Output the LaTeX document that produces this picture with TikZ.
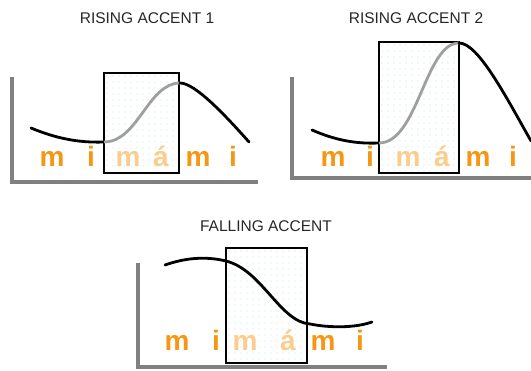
\documentclass[tikz,border=0pt]{standalone}
\usepackage{fontspec}
\setmainfont{Liberation Sans}
\usepackage{tikz}
\definecolor{syllorange}{RGB}{245, 150, 20}
\definecolor{fadedorange}{RGB}{250, 205, 140}
\definecolor{dotcyan}{RGB}{190, 228, 228}
\newcommand{\dotbox}[5]{
\begin{scope}
  \clip (#1,#2) rectangle (#3,#4);
  \foreach \i in {0,...,14}
    \foreach \j in {0,...,22}
      \fill[dotcyan] (#1+3+\i*6,#2+3+\j*6) circle (0.7);
\end{scope}
\draw[accentbox] (#1,#2) rectangle (#3,#4);
\coordinate (#5) at (#1,#2);
}

\begin{document}
\begin{tikzpicture}[x=1pt, y=-1pt,
    axis/.style={line width=3.4pt, gray},
    accentbox/.style={line width=1.2pt, black},
    pitch/.style={line width=2.8pt, black, line cap=round},
    accentpitch/.style={line width=2.8pt, gray!75},
    title/.style={font=\fontsize{15.5}{18}\selectfont, anchor=base, text=black!85},
    syll/.style={font=\fontsize{28}{30}\selectfont\bfseries, anchor=base, text=syllorange},
    fadedsyll/.style={syll, text=fadedorange}]
    \useasboundingbox (0,0) rectangle (531,371);

    % rising accent 1
    \node[title] (title1) at (147,24) {RISING ACCENT 1};
    \dotbox{104}{73}{179}{173}{box1}
    \draw[axis] (12,77) |- (258,182);
    \draw[pitch] (31,128) .. controls (55,138) and (78,143) .. (104,142);
    \draw[accentpitch] (104,142) .. controls (138,142) and (148,83) .. (180,83);
    \draw[pitch] (180,83) .. controls (195,83) and (225,115) .. (249,142);
    \foreach \x/\s/\st [count=\n] in {52/m/syll, 91/i/syll, 128/m/fadedsyll,
        161/á/fadedsyll, 198/m/syll, 233/i/syll}
        \node[\st] (one-\n) at (\x,167) {\s};

    % rising accent 2
    \node[title] (title2) at (416,24) {RISING ACCENT 2};
    \dotbox{379}{42}{459}{173}{box2}
    \draw[axis] (292,77) |- (535,178);
    \draw[pitch] (312,130) .. controls (335,140) and (355,144) .. (379,143);
    \draw[accentpitch] (379,143) .. controls (418,143) and (425,43) .. (459,43);
    \draw[pitch] (459,43) .. controls (478,43) and (505,95) .. (531,141);
    \foreach \x/\s/\st [count=\n] in {333/m/syll, 370/i/syll, 408/m/fadedsyll,
        442/á/fadedsyll, 478/m/syll, 513/i/syll}
        \node[\st] (two-\n) at (\x,167) {\s};

    % falling accent
    \node[title] (title3) at (266,232) {FALLING ACCENT};
    \dotbox{226}{248}{307}{363}{box3}
    \draw[axis] (138,263) |- (387,367);
    \draw[pitch] (165,265) .. controls (185,258) and (205,256) .. (226,261)
        .. controls (262,270) and (280,322) .. (310,324)
        .. controls (330,328) and (355,328) .. (372,322);
    \foreach \x/\s/\st [count=\n] in {177/m/syll, 216/i/syll, 245/m/fadedsyll,
        288/á/fadedsyll, 323/m/syll, 360/i/syll}
        \node[\st] (three-\n) at (\x,351) {\s};
\end{tikzpicture}
\end{document}
